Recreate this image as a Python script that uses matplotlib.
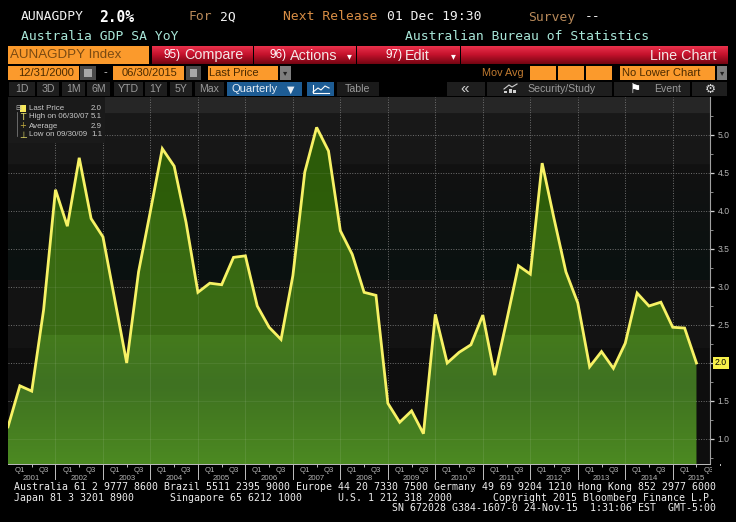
#!/usr/bin/env python3
import matplotlib

matplotlib.use("Agg")
import matplotlib.pyplot as plt
import numpy as np
from matplotlib.patches import Polygon, Rectangle
from matplotlib.ticker import FixedLocator, NullFormatter

W, H = 736, 522

# quarterly readings, Q4 2000 .. Q2 2015
gdp_yoy = [
    1.16, 1.70, 1.63, 2.70, 4.28, 3.80, 4.70, 3.90, 3.66, 2.83,
    2.00, 3.20, 4.00, 4.82, 4.59, 3.85, 2.93, 3.05, 3.03, 3.39,
    3.41, 2.75, 2.47, 2.31, 3.15, 4.51, 5.10, 4.79, 3.74, 3.43,
    2.93, 2.89, 1.47, 1.22, 1.37, 1.07, 2.64, 2.00, 2.14, 2.24,
    2.63, 1.84, 2.55, 3.28, 3.17, 4.63, 3.90, 3.20, 2.79, 1.95,
    2.15, 1.93, 2.26, 2.92, 2.75, 2.80, 2.47, 2.46, 2.00,
]
years = list(range(2001, 2016))
y_ticks = [1.0, 1.5, 2.0, 2.5, 3.0, 3.5, 4.0, 4.5, 5.0]
y_minor = [0.75, 1.25, 1.75, 2.25, 2.75, 3.25, 3.75, 4.25, 4.75, 5.25]
legend_rows = [
    ("Last Price", "2.0"),
    ("High on 06/30/07", "5.1"),
    ("Average", "2.9"),
    ("Low on 09/30/09", "1.1"),
]

MONO = "DejaVu Sans Mono"
SANS = "Liberation Sans"
ORANGE = "#fb9a2c"


def gradient(stops, top=97, bottom=464):
    # stops are (pixel row, hex colour)
    rows = np.arange(top, bottom)
    ys = [s[0] for s in stops]
    rgb = np.array([matplotlib.colors.to_rgb(s[1]) for s in stops])
    return np.stack([np.interp(rows, ys, rgb[:, k]) for k in range(3)], axis=1)[:, None, :]


fig = plt.figure(figsize=(W / 100, H / 100), dpi=100, facecolor="black")

# main chart
ax = fig.add_axes([8 / W, (H - 464) / H, 702 / W, 367 / H], facecolor="black")
x = np.arange(len(gdp_yoy))
xlim = (0, 59.14)
ylim = (0.671, 5.5)
extent = [xlim[0], xlim[1], ylim[0], ylim[1]]

back = gradient([(97, "#262626"), (112, "#262626"), (113, "#191919"), (163, "#171717"),
                 (164, "#121212"), (270, "#0a1110"), (279, "#0a1110"), (280, "#141414"),
                 (347, "#131313"), (348, "#0e0e0e"), (464, "#0e0e0e")])
ax.imshow(back, extent=extent, aspect="auto", origin="upper", zorder=0)

for tick in y_ticks:
    ax.axhline(tick, color="#707070", lw=0.7, ls=(0, (1, 1.6)), zorder=1)
for i in range(4, len(gdp_yoy) + 1, 4):
    ax.axvline(i, color="#707070", lw=0.7, ls=(0, (1, 1.6)), zorder=1)

green = gradient([(97, "#2b5809"), (210, "#2e5e0a"), (211, "#386a10"), (334, "#3b6c15"),
                  (335, "#447a1c"), (385, "#3f7222"), (420, "#457c20"), (464, "#4c8a22")])
outline = np.column_stack([np.r_[x, x[-1], x[0]], np.r_[gdp_yoy, ylim[0], ylim[0]]])
area = Polygon(outline, closed=True, transform=ax.transData, fc="none", ec="none")
ax.add_patch(area)
img = ax.imshow(green, extent=extent, aspect="auto", origin="upper", zorder=2)
img.set_clip_path(area)

# grid shows only faintly through the fill
for tick in y_ticks:
    line = ax.axhline(tick, color="white", lw=0.6, alpha=0.08, zorder=3)
    line.set_clip_path(area)
for i in range(4, len(gdp_yoy) + 1, 4):
    line = ax.axvline(i, color="white", lw=0.6, alpha=0.10, zorder=3)
    line.set_clip_path(area)

ax.plot(x, gdp_yoy, color="#f7f265", lw=2.0, solid_joinstyle="miter", zorder=4)

ax.set_xlim(*xlim)
ax.set_ylim(*ylim)
for side in ("top", "left"):
    ax.spines[side].set_visible(False)
ax.spines["bottom"].set_color("#bdbdbd")
ax.spines["bottom"].set_linewidth(0.7)
ax.spines["right"].set_color("#a0a0a0")
ax.spines["right"].set_linewidth(0.8)

# the 2.0 tick carries the last-price tag instead of a plain label
ax.yaxis.tick_right()
y_labels = ["" if t == gdp_yoy[-1] else f"{t:.1f}" for t in y_ticks]
ax.set_yticks(y_ticks, y_labels, family=SANS, fontsize=6.2, color="#b5b5b5")
ax.yaxis.set_minor_locator(FixedLocator(y_minor))
ax.yaxis.set_minor_formatter(NullFormatter())
ax.tick_params(axis="y", which="major", length=3, width=0.9, color="#d0d0d0", pad=2.5)
ax.tick_params(axis="y", which="minor", length=2, width=0.6, color="#a0a0a0")

# Q1/Q3 labels sit on odd positions, small ticks between them
odd = list(range(1, 60, 2))
ax.set_xticks(odd, ["Q1" if i % 4 == 1 else "Q3" for i in odd], family=SANS, fontsize=5.6, color="#b5b5b5")
ax.tick_params(axis="x", which="major", length=0, pad=2.4)
ax.xaxis.set_minor_locator(FixedLocator(list(range(2, 59, 4))))
ax.xaxis.set_minor_formatter(NullFormatter())
ax.tick_params(axis="x", which="minor", length=2, width=0.7, color="#c0c0c0")

trans = ax.get_xaxis_transform()
for k, year in enumerate(years):
    ax.text(2 + 4 * k, -0.039, str(year), transform=trans, ha="center", va="center",
            family=SANS, fontsize=5.6, color="#b5b5b5")
    ax.plot([4 + 4 * k] * 2, [0, -0.04], transform=trans, color="#c0c0c0", lw=0.7, clip_on=False)

ax.annotate("2.0", xy=(1, gdp_yoy[-1]), xycoords=ax.get_yaxis_transform(), xytext=(8, 0),
            textcoords="offset points", ha="center", va="center", family=SANS, fontsize=6.2,
            color="black", bbox={"boxstyle": "square,pad=0.22", "fc": "#f7f04a", "ec": "none"}, zorder=6,
            annotation_clip=False)

# terminal chrome, in pixel coordinates
ui = fig.add_axes([0, 0, 1, 1], facecolor="none", zorder=5)
ui.axis("off")


def box(x0, y0, x1, y1, color, **kw):
    ui.add_patch(Rectangle((x0, y0), x1 - x0, y1 - y0, fc=color, ec="none", **kw))


def label(px, py, text, color="white", size=9.4, family=MONO, ha="left", **kw):
    ui.text(px, py, text, color=color, fontsize=size, family=family, ha=ha, va="center", **kw)


def red_bar(x0, x1):
    bar = gradient([(46, "#e8304a"), (54, "#c4122c"), (64, "#6e0410")], top=46, bottom=64)
    ui.imshow(bar, extent=[x0, x1, 64, 46], aspect="auto", zorder=1)


box(712, 466, 736, 480, "black")

label(21, 17, "AUNAGDPY", "#f2f2f2")
label(99, 17, "2.0%", "white", size=10.5, fontweight="bold")
label(188, 17, "For", "#b98a5a")
label(220, 17, "2Q", "#f2f2f2")
label(283, 17, "Next Release", "#d98e45")
label(387, 17, "01 Dec 19:30", "#f2f2f2")
label(528, 17, "Survey", "#b98a5a")
label(585, 17, "--", "#f2f2f2")
label(21, 36, "Australia GDP SA YoY", "#a8e6d8")
label(405, 36, "Australian Bureau of Statistics", "#a8e6d8")

box(8, 46, 149, 64, ORANGE)
label(10, 55.5, "AUNAGDPY Index", "#7a4a12", size=9.6, family=SANS)
red_bar(152, 253)
red_bar(254, 356)
red_bar(357, 460)
red_bar(461, 728)
label(164, 55, "95)", "white", size=8.5, family=SANS)
label(184, 55.5, "Compare", "#f4e6e6", size=10.4, family=SANS)
label(270, 55, "96)", "white", size=8.5, family=SANS)
label(290, 55.5, "Actions", "#f4e6e6", size=10.4, family=SANS)
label(385, 55, "97)", "white", size=8.5, family=SANS)
label(405, 55.5, "Edit", "#f4e6e6", size=10.4, family=SANS)
label(717, 55.5, "Line Chart", "#f4e6e6", size=10.4, family=SANS, ha="right")
for ax_x in (349, 453):
    label(ax_x, 56, "▾", "white", size=7, family="DejaVu Sans", ha="center")

for x0, x1 in ((8, 79), (113, 184), (208, 278), (530, 556), (558, 584), (586, 612), (620, 715)):
    box(x0, 66, x1, 80, ORANGE)
label(18, 72.5, "12/31/2000", "#4a2a00", size=8, family=SANS)
label(122, 72.5, "06/30/2015", "#4a2a00", size=8, family=SANS)
label(209, 72.5, "Last Price", "#4a2a00", size=8, family=SANS)
label(622, 72.5, "No Lower Chart", "#4a2a00", size=8, family=SANS)
label(482, 72.5, "Mov Avg", "#c07a30", size=7.8, family=SANS)
label(105, 72.5, "-", "#d0d0d0", size=8, family=SANS, ha="center")
for x0, x1 in ((80, 96), (186, 201)):
    box(x0, 66, x1, 80, "#4a4a4a")
    box(x0 + 4, 69, x1 - 4, 77, "#a8a8a8")
for x0, x1 in ((280, 291), (717, 727)):
    box(x0, 66, x1, 80, "#7e7e7e")
    label((x0 + x1) / 2, 73, "▾", "#202020", size=6, family="DejaVu Sans", ha="center")

buttons = [(9, 35, "1D"), (37, 59, "3D"), (62, 85, "1M"), (87, 110, "6M"), (114, 143, "YTD"),
           (145, 167, "1Y"), (170, 192, "5Y"), (195, 224, "Max")]
for x0, x1, text in buttons:
    box(x0, 82, x1, 96, "#1e1e1e")
    label((x0 + x1) / 2, 89.5, text, "#9a9a9a", size=7.6, family=SANS, ha="center")
box(227, 82, 302, 96, "#1d5c94")
label(232, 89.5, "Quarterly", "#e6eef6", size=8, family=SANS)
label(291, 89.5, "▼", "#e6eef6", size=7, family="DejaVu Sans", ha="center")
box(307, 82, 334, 96, "#1d5c94")
ui.plot([313, 318, 321, 325, 329], [92, 88, 90, 86, 88], color="white", lw=0.8)
ui.plot([313, 313, 329], [85, 93, 93], color="white", lw=0.8)
box(337, 82, 379, 96, "#1a1a1a")
label(345, 89.5, "Table", "#9a9a9a", size=7.6, family=SANS)
for x0, x1 in ((447, 485), (487, 612), (614, 690), (692, 727)):
    box(x0, 82, x1, 96, "#1e1e1e")
label(465, 88.5, "«", "#d0d0d0", size=11, family=SANS, ha="center")
ui.plot([504, 509, 512, 517], [89, 85, 87, 84], color="#d0d0d0", lw=0.8)
for bar_x, bar_h in ((504, 2), (509, 4), (513, 3)):
    box(bar_x, 93 - bar_h, bar_x + 3, 93, "#d0d0d0")
label(527, 89.5, "Security/Study", "#9a9a9a", size=7.6, family=SANS)
label(630, 89, "⚑", "white", size=9, family="DejaVu Sans")
label(654, 89.5, "Event", "#9a9a9a", size=7.6, family=SANS)
label(710, 89, "⚙", "#d8d8d8", size=9, family="DejaVu Sans", ha="center")

# legend block
box(8, 97, 105, 143, "#1a1a1a", zorder=2)
box(20, 105, 26, 112, "#f7e85a", zorder=3)
label(15, 108, "⊟", "#b0b0b0", size=5, family="DejaVu Sans", zorder=3)
ui.plot([17, 17], [112, 136], color="#8a8a8a", lw=0.5, zorder=3)
for marker_y, marker in ((117, "T"), (135, "⊥")):
    label(23, marker_y, marker, "#e8e06a", size=6.5, family="DejaVu Sans", ha="center", zorder=3)
label(23, 126, "+", "#c8b040", size=6, family="DejaVu Sans", ha="center", zorder=3)
for row, (name, value) in enumerate(legend_rows):
    row_y = 108 + 9 * row
    label(29, row_y, name, "#c8c8c8", size=5.7, family=SANS, zorder=3)
    label(102, row_y, value, "#c8c8c8", size=5.7, family=SANS, ha="right", zorder=3)

# footer
foot = "#eeeeee"
label(14, 487, "Australia 61 2 9777 8600 Brazil 5511 2395 9000 Europe 44 20 7330 7500 "
               "Germany 49 69 9204 1210 Hong Kong 852 2977 6000", foot, size=7.15)
label(14, 498, "Japan 81 3 3201 8900", foot, size=7.15)
label(170, 498, "Singapore 65 6212 1000", foot, size=7.15)
label(338, 498, "U.S. 1 212 318 2000", foot, size=7.15)
label(493, 498, "Copyright 2015 Bloomberg Finance L.P.", foot, size=7.15)
label(392, 508, "SN 672028 G384-1607-0 24-Nov-15  1:31:06 EST  GMT-5:00", foot, size=7.15)

ui.set_xlim(0, W)
ui.set_ylim(H, 0)

fig.savefig("out.png", dpi=100, facecolor="black")
